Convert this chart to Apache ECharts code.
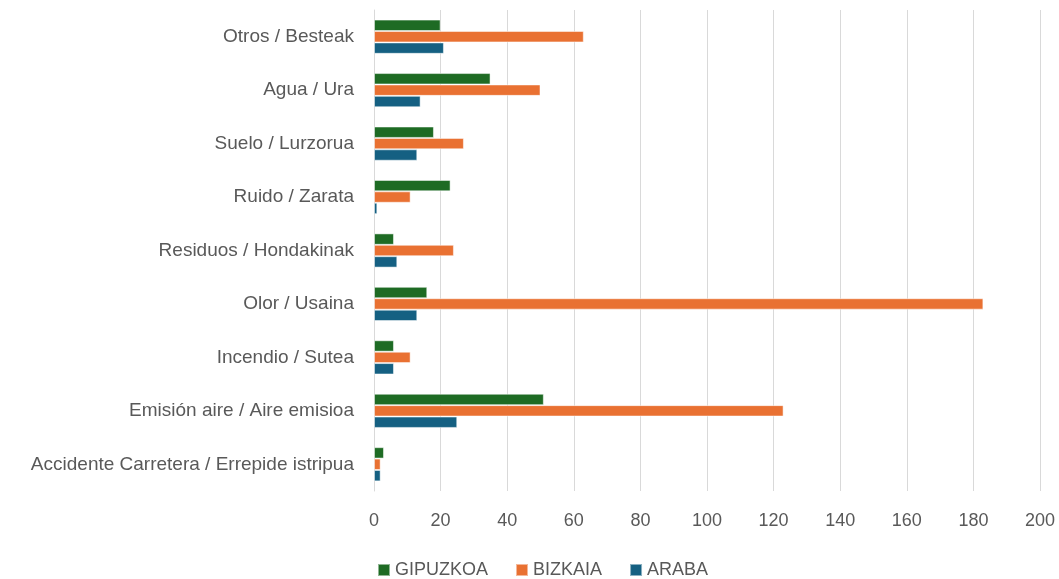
<!DOCTYPE html>
<html>
<head>
<meta charset="utf-8">
<script src="https://cdn.jsdelivr.net/npm/echarts@6/dist/echarts.min.js"></script>
<style>
  html, body { margin: 0; padding: 0; background: #fff; }
  #chart { width: 1059px; height: 579px; }
</style>
</head>
<body>
<div id="chart"></div>
<script>
// categories bottom -> top (ECharts category y axis starts at the bottom)
const categories = [
  'Accidente Carretera / Errepide istripua',
  'Emisión aire / Aire emisioa',
  'Incendio / Sutea',
  'Olor / Usaina',
  'Residuos / Hondakinak',
  'Ruido / Zarata',
  'Suelo / Lurzorua',
  'Agua / Ura',
  'Otros / Besteak'
];
const gipuzkoa = [3, 51, 6, 16, 6, 23, 18, 35, 20];
const bizkaia = [2, 123, 11, 183, 24, 11, 27, 50, 63];
const araba = [2, 25, 6, 13, 7, 1, 13, 14, 21];

const seriesNames = ['GIPUZKOA', 'BIZKAIA', 'ARABA'];
const seriesColors = ['#1e6b24', '#e97132', '#156082'];
const seriesData = [gipuzkoa, bizkaia, araba];

const textColor = '#595959';
const fontFamily = '"Liberation Sans", Arial, sans-serif';

const myChart = echarts.init(document.getElementById('chart'));

const option = {
  animation: false,
  textStyle: { fontFamily },
  legend: {
    data: seriesNames,
    top: 556,
    left: 372,
    itemWidth: 12,
    itemHeight: 12,
    itemGap: 27,
    icon: 'rect',
    textStyle: { color: textColor, fontSize: 18, fontFamily }
  },
  grid: {
    left: 374,
    right: 19,
    top: 10,
    bottom: 88
  },
  xAxis: {
    type: 'value',
    min: 0,
    max: 200,
    interval: 20,
    axisLine: { show: false },
    axisTick: { show: false },
    axisLabel: { color: textColor, fontSize: 18, margin: 21, fontFamily },
    splitLine: { lineStyle: { color: '#d9d9d9', width: 1 } }
  },
  yAxis: {
    type: 'category',
    data: categories,
    axisLine: { show: true, lineStyle: { color: '#d9d9d9' } },
    axisTick: { show: false },
    axisLabel: { color: textColor, fontSize: 19, margin: 20, fontFamily }
  },
  series: seriesNames.map((name, i) => ({
    name,
    type: 'bar',
    data: seriesData[i],
    barGap: '0%',
    barCategoryGap: '36%',
    itemStyle: {
      color: seriesColors[i],
      borderColor: 'rgba(255,255,255,0.5)',
      borderWidth: 1
    }
  }))
};

myChart.setOption(option);
</script>
</body>
</html>
